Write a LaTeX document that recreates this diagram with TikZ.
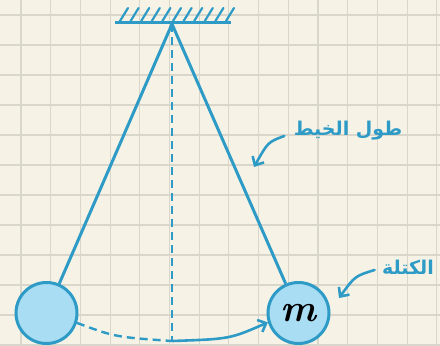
\documentclass[tikz,border=0pt]{standalone}
\usepackage{fontspec}
\usetikzlibrary{arrows.meta}
\newfontfamily\arabicfont[Script=Arabic]{DejaVu Sans}
\TeXXeTstate=1
\definecolor{paper}{HTML}{F6F3E6}
\definecolor{gridc}{HTML}{D9D6CB}
\definecolor{inkb}{HTML}{2E9BC6}
\definecolor{bobfill}{HTML}{A9DDF4}
\begin{document}
\begin{tikzpicture}[x=1pt,y=-1pt,
  gridline/.style={draw=gridc,line width=1.1pt},
  stringline/.style={draw=inkb,line width=3pt},
  guide/.style={draw=inkb,line width=2.4pt,dash pattern=on 8pt off 5pt},
  bob/.style={circle,draw=inkb,fill=bobfill,line width=3pt,minimum size=61pt,inner sep=0pt},
  label/.style={text=inkb,font=\arabicfont\fontsize{19}{22}\selectfont\bfseries},
  callout/.style={draw=inkb,line width=2.6pt,line cap=round,-{Straight Barb[length=7pt,width=13pt,line width=2.6pt]}}]
\useasboundingbox (0,0) rectangle (440,346);
\fill[paper] (0,0) rectangle (440,346);
\foreach \k in {0,...,14} \draw[gridline] ({21+29.7*\k},0) -- ({21+29.7*\k},346);
\foreach \k in {0,...,11} \draw[gridline] (0,{15+30*\k}) -- (440,{15+30*\k});
% ceiling
\draw[inkb,line width=3pt] (115,22.5) -- (231,22.5);
\foreach \k in {0,...,10} \draw[inkb,line width=2.2pt,line cap=round] ({120+10.6*\k},21) -- ({128+10.6*\k},8);
\coordinate (P) at (172,24);
\coordinate (B) at (172,341);
% bobs
\node[bob] (L) at (46.5,313) {};
\node[bob] (R) at (298.5,313) {\fontsize{38}{40}\selectfont\bfseries\itshape m};
% strings
\draw[stringline] (P) -- (L);
\draw[stringline] (P) -- (R);
\draw[guide] (P) -- (B);
% swing path
\draw[guide] (L.-18) .. controls (115,337) .. (B);
\draw[inkb,line width=2.6pt,-{Straight Barb[length=7pt,width=13pt,line width=2.6pt]}] (B) .. controls (230,339) .. (R.197);
% labels
\node[label] (t1) at (348,131) {\beginR طول الخيط\endR};
\node[label] (t2) at (408,267) {\beginR الكتلة\endR};
\draw[callout] (t1.west) ++(-6,5) .. controls (268,142) .. (254,167);
\draw[callout] (t2.west) ++(-4,3) .. controls (355,276) .. (339,298);
\end{tikzpicture}
\end{document}
